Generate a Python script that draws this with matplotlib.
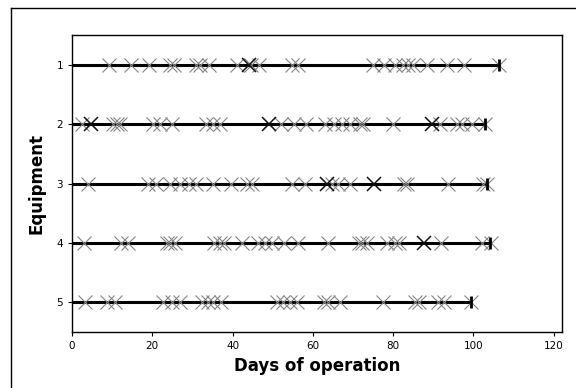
import matplotlib
matplotlib.use('Agg')
import matplotlib.pyplot as plt
from matplotlib.lines import Line2D

# event times (days) for each equipment
equipment = [1, 2, 3, 4, 5]
end_days = [106.3, 103.0, 103.3, 104.2, 99.3]

gray_1 = [9.3, 14.6, 19.3, 24.5, 25.4, 31.0, 31.8, 34.2, 41.0, 44.5, 46.6,
          54.7, 56.2, 75.0, 77.8, 80.5, 82.5, 83.8, 85.0, 88.5, 93.5, 97.8,
          106.3]
gray_2 = [2.5, 10.3, 11.1, 12.0, 20.3, 22.0, 25.0, 33.3, 35.2, 36.8, 52.0,
          55.2, 58.3, 63.0, 65.2, 67.3, 69.3, 71.8, 72.6, 80.1, 91.8, 96.0,
          97.2, 99.7, 103.0]
gray_3 = [4.0, 19.0, 21.0, 24.5, 26.8, 29.2, 31.0, 35.2, 39.5, 43.7, 44.8,
          54.7, 58.0, 64.8, 66.4, 69.3, 82.7, 83.5, 93.8, 102.4, 103.3]
gray_4 = [2.9, 12.2, 14.0, 23.6, 24.4, 25.7, 35.5, 36.9, 38.0, 42.4, 46.3,
          48.2, 49.8, 52.9, 56.2, 63.9, 71.4, 72.2, 73.4, 78.5, 80.6, 81.6,
          92.0, 102.2, 104.4]
gray_5 = [3.2, 8.6, 10.8, 22.8, 24.9, 26.9, 32.5, 33.8, 35.2, 37.2, 51.0,
          52.7, 54.4, 56.0, 62.7, 63.9, 66.8, 77.6, 85.5, 86.5, 91.3, 92.6,
          99.3]
gray_events = [gray_1, gray_2, gray_3, gray_4, gray_5]

black_events = [[44.0], [4.7, 49.2, 89.8], [63.5, 75.2], [87.6], []]

fig = plt.figure(figsize=(5.76, 3.88), dpi=100)
ax = fig.add_axes([0.125, 0.144, 0.85, 0.766])

# outer frame: only the top and left edges show in the picture
fx = 11 / 576
fy = 1 - 8 / 388
fig.lines.append(Line2D([fx, 1.0], [fy, fy], transform=fig.transFigure,
                        color='black', linewidth=1.0))
fig.lines.append(Line2D([fx, fx], [0.0, fy], transform=fig.transFigure,
                        color='black', linewidth=1.0))

for eq, end, grays, blacks in zip(equipment, end_days, gray_events,
                                  black_events):
    ax.plot([0, end], [eq, eq], color='black', linewidth=2.2, zorder=2)
    ax.plot(grays, [eq] * len(grays), linestyle='none', marker='x',
            markersize=10, markeredgewidth=0.8, color='#858585', zorder=3)
    if blacks:
        ax.plot(blacks, [eq] * len(blacks), linestyle='none', marker='x',
                markersize=10, markeredgewidth=1.1, color='#111111', zorder=4)
    ax.plot([end], [eq], linestyle='none', marker='|', markersize=8,
            markeredgewidth=2.0, color='black', zorder=5)

ax.set_xlim(0, 122)
ax.set_ylim(5.5, 0.5)
ax.set_xticks([0, 20, 40, 60, 80, 100, 120])
ax.set_yticks(equipment)
ax.tick_params(labelsize=7.5, length=3, width=0.8)
ax.set_xlabel('Days of operation', fontsize=12, fontweight='bold', labelpad=4)
ax.set_ylabel('Equipment', fontsize=12, fontweight='bold', labelpad=8)
for s in ax.spines.values():
    s.set_linewidth(1.0)

plt.savefig('out.png', dpi=100)
